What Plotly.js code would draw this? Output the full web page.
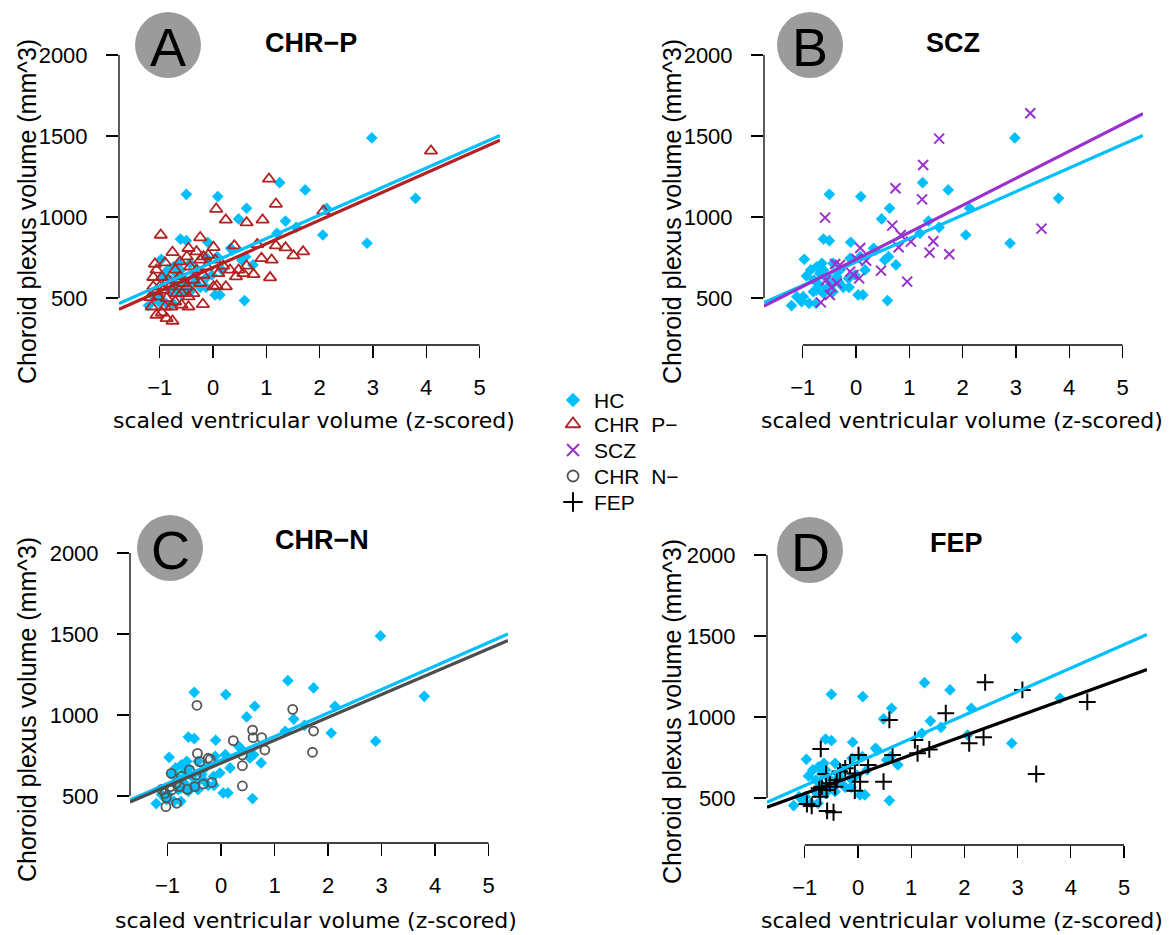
<!DOCTYPE html>
<html><head><meta charset="utf-8">
<script src="https://cdn.plot.ly/plotly-3.0.1.min.js"></script>
<style>body{margin:0;background:#fff}#chart{width:1173px;height:935px}</style>
</head><body><div id="chart"></div>
<script>
// ---------------- data ----------------
const hcX = [2.98,3.80,2.89,2.06,1.73,1.25,2.13,1.36,1.56,1.20,0.63,0.48,-0.50,0.09,-0.61,-0.50,-0.10,0.33,0.61,0.54,0.75,0.59,0.04,0.13,-0.97,-0.93,-0.85,-0.74,-0.64,-0.68,-0.79,-0.69,-0.74,-0.80,-1.11,-0.99,-1.02,-0.88,-1.21,-0.75,-0.61,-0.54,-0.43,-0.46,-0.33,-0.24,-0.36,-0.30,-0.14,-0.13,-0.02,0.17,0.08,-0.11,0.36,-0.43,-0.55,-0.61];
const hcY = [1488,1115,838,889,1167,1212,1054,975,936,899,1054,988,1140,1126,864,854,844,807,755,735,704,484,519,519,739,636,673,693,714,652,611,580,549,539,508,508,477,467,453,467,529,560,539,580,601,566,632,673,621,566,642,673,755,745,796,714,621,673];

const chrpX = [4.09,1.05,1.18,2.07,0.06,0.24,0.63,0.93,-0.98,-0.24,0.40,0.83,1.18,1.36,1.69,1.51,0.91,1.10,1.07,0.63,0.76,0.48,0.32,0.43,-0.46,-0.76,0.01,-0.31,-0.18,-1.09,-0.90,-0.49,-1.06,-1.12,-0.96,-0.71,-0.62,-0.43,-0.31,-0.12,0.04,0.19,0.10,0.01,0.07,0.24,-0.18,-0.24,-0.37,-0.56,-0.68,-0.81,-0.93,-1.06,-1.18,-1.03,-0.87,-0.71,-0.59,-0.46,-0.59,-0.46,-0.19,-1.15,-1.06,-0.96,-0.87,-0.76,-0.78,-0.90,-0.68,-0.49,-0.37,-1.00,-1.12,-0.84,-0.24,-0.09,-0.62,0.57];
const chrpY = [1408,1235,1080,1037,1049,982,965,982,889,873,823,831,823,811,786,761,745,735,626,698,646,673,673,632,807,782,813,786,755,710,718,755,673,628,628,673,632,693,673,693,735,698,652,570,574,570,642,591,611,591,611,570,549,539,504,508,498,477,529,508,457,446,461,446,395,409,374,358,446,446,529,570,529,570,570,611,735,765,724,652];

const sczX = [3.27,1.56,1.26,0.74,1.24,-0.58,3.48,0.68,0.84,1.03,1.45,0.80,1.38,1.75,0.08,0.01,0.19,-0.39,-0.30,-0.11,-0.05,0.06,0.47,0.96,-0.56,-0.46,-0.49,-0.66,-0.36];
const sczY = [1640,1484,1321,1177,1109,996,928,947,889,848,850,813,780,770,809,741,730,710,704,663,642,621,669,601,611,566,519,473,591];

const chrnX = [-0.45,1.34,1.73,1.71,0.59,0.60,0.76,0.82,0.23,0.40,0.40,0.40,-0.44,-0.40,-0.24,-0.20,-0.59,-0.74,-0.93,-0.47,-0.17,-0.33,-0.49,-0.63,-0.77,-0.84,-0.95,-1.11,-1.05,-1.02,-1.03,-0.83,-0.92];
const chrnY = [1060,1035,901,770,907,860,860,784,842,753,687,562,763,712,733,726,661,623,640,630,584,574,558,541,558,578,558,541,516,490,434,455,537];

const fepX = [2.39,3.09,4.31,3.35,1.65,0.59,1.07,1.12,1.34,2.09,2.36,0.65,0.48,-0.70,0.01,0.19,-0.15,-0.06,0.04,-0.06,-0.60,-0.34,-0.40,-0.53,-0.68,-0.59,-0.71,-0.96,-0.87,-0.58,-0.46,-0.24,-0.43,-0.73];
const fepY = [1214,1167,1093,648,1023,982,858,776,800,838,875,765,601,803,765,704,704,652,601,545,648,663,611,591,570,549,508,463,451,420,412,683,570,560];

// regression fits: volume = intercept + slope * z
const fitGroups     = ['HC','CHR-P','SCZ','CHR-N','FEP'];
const fitIntercepts = [722, 688, 738, 703, 647];
const fitSlopes     = [145, 146, 167, 141, 119];

const xTicks = [-1,0,1,2,3,4,5];
const yTicks = [500,1000,1500,2000];
const panelLetters = ['A','B','C','D'];
const panelTitles  = ['CHR\u2212P','SCZ','CHR\u2212N','FEP'];
const legendLabels = ['HC','CHR  P\u2212','SCZ','CHR  N\u2212','FEP'];
const xTitle = 'scaled ventricular volume (z-scored)';
const yTitle = 'Choroid plexus volume (mm^3)';

// ---------------- styling / layout ----------------
const W = 1173, H = 935;
const fx = px => px / W, fy = py => 1 - py / H;
const SANS = 'Liberation Sans, Arial, sans-serif';
const VERD = 'DejaVu Sans, Verdana, sans-serif';

const groupStyle = [
  {name:'HC',    color:'#00BFFF', symbol:'diamond',          size:9,  lw:0},
  {name:'CHR P', color:'#B22222', symbol:'triangle-up-open', size:11, lw:1.8},
  {name:'SCZ',   color:'#9932CC', symbol:'x-thin-open',      size:10, lw:2},
  {name:'CHR N', color:'#555555', symbol:'circle-open',      size:9,  lw:1.8},
  {name:'FEP',   color:'#000000', symbol:'cross-thin-open',  size:12, lw:2}
];
const lineColors = ['#00BFFF','#B22222','#9932CC','#4D4D4D','#000000'];
const groupData = [[hcX,hcY],[chrpX,chrpY],[sczX,sczY],[chrnX,chrnY],[fepX,fepY]];

// pixel geometry of each panel (where value 0 / 500 fall, scale, plot box)
const panels = [
  {g:1, x0:213, ppx:53.3, left:119, right:500,  y500:298, ppy:81/500, bottom:345, top:12,
   circ:[168,45], title:[311,43], yt:[27,212], xt:[314,420]},
  {g:2, x0:856, ppx:53.3, left:764, right:1143, y500:298, ppy:81/500, bottom:345, top:12,
   circ:[810,45], title:[953,43], yt:[672,212], xt:[962,420]},
  {g:3, x0:221, ppx:53.5, left:130, right:508,  y500:796, ppy:81/500, bottom:843, top:510,
   circ:[170,548], title:[322,540], yt:[27,710], xt:[316,920]},
  {g:4, x0:858, ppx:53.2, left:767, right:1147, y500:798, ppy:81/500, bottom:845, top:510,
   circ:[810,550], title:[956,543], yt:[672,712], xt:[962,920]}
];

const traces = [];
const layout = {
  width: W, height: H, margin:{l:0,r:0,t:0,b:0},
  paper_bgcolor:'#fff', plot_bgcolor:'rgba(0,0,0,0)',
  showlegend:false, shapes:[], annotations:[], font:{family:SANS, color:'#000'}
};

panels.forEach((p, i) => {
  const n = i === 0 ? '' : String(i + 1);
  const xr = [(p.left - p.x0) / p.ppx, (p.right - p.x0) / p.ppx];
  const yv = py => 500 + (p.y500 - py) / p.ppy;
  const yr = [yv(p.bottom), yv(p.top)];
  const axCommon = {showgrid:false, zeroline:false, showline:false, ticks:'outside',
    ticklen:12, tickwidth:1.3, tickcolor:'#000', fixedrange:true,
    tickfont:{family:SANS, size:22, color:'#000'}};
  layout['xaxis' + n] = Object.assign({}, axCommon, {
    domain:[fx(p.left), fx(p.right)], range:xr, anchor:'y' + n,
    tickmode:'array', tickvals:xTicks, ticktext:xTicks.map(v => v < 0 ? '\u2212' + Math.abs(v) : String(v)),
    ticklabelstandoff:11});
  layout['yaxis' + n] = Object.assign({}, axCommon, {
    domain:[fy(p.bottom), fy(p.top)], range:yr, anchor:'x' + n,
    tickmode:'array', tickvals:yTicks, ticktext:yTicks.map(String), ticklabelstandoff:14});

  // axis lines spanning only first..last tick (R style)
  layout.shapes.push({type:'line', xref:'x' + n, yref:'y' + n + ' domain',
    x0:xTicks[0], x1:xTicks[xTicks.length - 1], y0:0, y1:0, line:{color:'#000', width:1.3}});
  layout.shapes.push({type:'line', xref:'x' + n + ' domain', yref:'y' + n,
    x0:0, x1:0, y0:yTicks[0], y1:yTicks[yTicks.length - 1], line:{color:'#000', width:1.3}});

  // points: HC first, then the group
  [0, p.g].forEach(g => {
    const s = groupStyle[g];
    traces.push({type:'scatter', mode:'markers', x:groupData[g][0], y:groupData[g][1],
      xaxis:'x' + n, yaxis:'y' + n, hoverinfo:'skip',
      marker:{symbol:s.symbol, size:s.size, color:s.color, line:{color:s.color, width:s.lw}}});
  });
  // regression lines
  [0, p.g].forEach(g => {
    traces.push({type:'scatter', mode:'lines', x:xr,
      y:xr.map(v => fitIntercepts[g] + fitSlopes[g] * v),
      xaxis:'x' + n, yaxis:'y' + n, hoverinfo:'skip',
      line:{color:lineColors[g], width:3.2}});
  });

  // panel letter circle + title + axis titles
  const r = 33;
  layout.shapes.push({type:'circle', xref:'paper', yref:'paper',
    x0:fx(p.circ[0] - r), x1:fx(p.circ[0] + r), y0:fy(p.circ[1] + r), y1:fy(p.circ[1] - r),
    fillcolor:'#9B9B9B', line:{width:0}, layer:'above'});
  layout.annotations.push({xref:'paper', yref:'paper', x:fx(p.circ[0]), y:fy(p.circ[1] + 2),
    text:panelLetters[i], showarrow:false, xanchor:'center', yanchor:'middle',
    font:{family:SANS, size:54, color:'#000'}});
  layout.annotations.push({xref:'paper', yref:'paper', x:fx(p.title[0]), y:fy(p.title[1]),
    text:'<b>' + panelTitles[i] + '</b>', showarrow:false, xanchor:'center', yanchor:'middle',
    font:{family:SANS, size:27, color:'#000'}});
  layout.annotations.push({xref:'paper', yref:'paper', x:fx(p.xt[0]), y:fy(p.xt[1]),
    text:xTitle, showarrow:false, xanchor:'center', yanchor:'middle',
    font:{family:VERD, size:22, color:'#000'}});
  layout.annotations.push({xref:'paper', yref:'paper', x:fx(p.yt[0]), y:fy(p.yt[1]),
    text:yTitle, showarrow:false, xanchor:'center', yanchor:'middle', textangle:-90,
    font:{family:SANS, size:25, color:'#000'}});
});

// legend drawn on a hidden pixel-scaled axis pair
const LG = {left:540, right:720, top:380, bottom:520, mx:573, tx:592, rows:[400,424,450,476,502]};
layout.xaxis5 = {domain:[fx(LG.left), fx(LG.right)], range:[LG.left, LG.right], visible:false, fixedrange:true, anchor:'y5'};
layout.yaxis5 = {domain:[fy(LG.bottom), fy(LG.top)], range:[LG.bottom, LG.top], visible:false, fixedrange:true, anchor:'x5'};
groupStyle.forEach((s, k) => {
  traces.push({type:'scatter', mode:'markers', x:[LG.mx], y:[LG.rows[k]], xaxis:'x5', yaxis:'y5',
    hoverinfo:'skip', cliponaxis:false,
    marker:{symbol:s.symbol, size:s.size + 2, color:s.color, line:{color:s.color, width:s.lw}}});
  layout.annotations.push({xref:'x5', yref:'y5', x:LG.tx, y:LG.rows[k], text:legendLabels[k],
    showarrow:false, xanchor:'left', yanchor:'middle', font:{family:SANS, size:21, color:'#000'}});
});

Plotly.newPlot('chart', traces, layout, {staticPlot:true, displayModeBar:false});
</script>
</body></html>
